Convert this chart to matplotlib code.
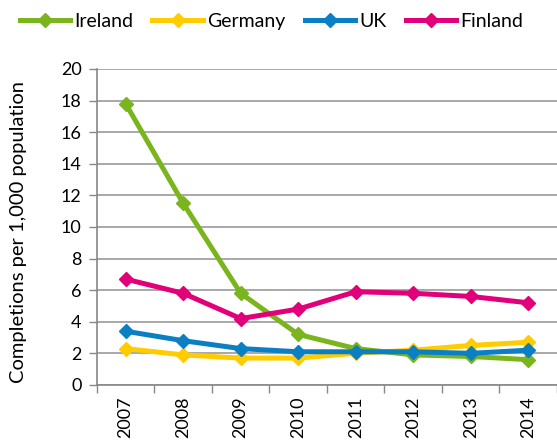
import matplotlib
matplotlib.use("Agg")
import matplotlib.pyplot as plt
from matplotlib.ticker import FixedLocator

plt.rcParams['font.family'] = ['Lato', 'DejaVu Sans']

years = ["2007", "2008", "2009", "2010", "2011", "2012", "2013", "2014"]
ireland = [17.8, 11.5, 5.8, 3.2, 2.3, 1.9, 1.8, 1.6]
germany = [2.3, 1.9, 1.7, 1.7, 2.0, 2.2, 2.5, 2.7]
uk = [3.4, 2.8, 2.3, 2.1, 2.1, 2.1, 2.0, 2.2]
finland = [6.7, 5.8, 4.2, 4.8, 5.9, 5.8, 5.6, 5.2]

series = [
  ("Ireland", ireland, "#7ab51d"),
  ("Germany", germany, "#ffcc00"),
  ("UK", uk, "#0a7fc4"),
  ("Finland", finland, "#e2007a"),
]

fig = plt.figure(figsize=(5.57, 4.45), dpi=100)
ax = fig.add_axes([0.174, 0.135, 0.826, 0.71])

x = list(range(len(years)))
for name, vals, col in series:
  ax.plot(x, vals, color=col, lw=3.6, marker="D", markersize=7, label=name)

ax.set_xlim(-0.5, len(years) - 0.5)
ax.set_ylim(0, 20)
ax.set_yticks(range(0, 21, 2))
ax.set_xticks(x)
ax.set_xticklabels(years, rotation=90, fontsize=13)
ax.tick_params(axis="x", length=0, pad=8)
ax.xaxis.set_minor_locator(FixedLocator([i - 0.5 for i in range(len(years) + 1)]))
ax.tick_params(axis="x", which="minor", length=6, color="#888888", width=1)
ax.tick_params(axis="y", labelsize=13, length=6, color="#888888", width=1, pad=5)

ax.grid(axis="y", color="#999999", lw=1.2)
ax.set_axisbelow(True)
for s in ["top", "right"]:
  ax.spines[s].set_visible(False)
for s in ["left", "bottom"]:
  ax.spines[s].set_color("#888888")
  ax.spines[s].set_linewidth(1.2)

ax.set_ylabel("Completions per 1,000 population", fontsize=14.5)
ax.yaxis.set_label_coords(-0.152, 0.484)

fig.legend(loc="upper center", bbox_to_anchor=(0.487, 1.01), ncol=4, frameon=False,
           fontsize=14, handlelength=2.6, handletextpad=0.2, columnspacing=1.0)

fig.savefig("out.png", dpi=100)
